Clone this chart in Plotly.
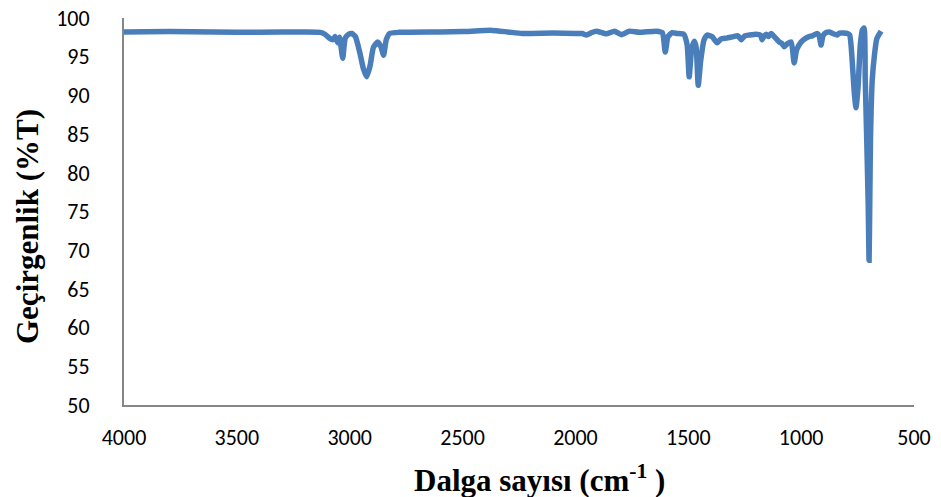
import plotly.graph_objects as go

wavenumber = [4000, 3800, 3600, 3400, 3200, 3130, 3110, 3090, 3075, 3065, 3053, 3045, 3031, 3020, 3005,
              2991, 2975, 2955, 2940, 2925, 2910, 2895, 2876, 2862, 2850, 2838, 2823, 2780, 2600, 2500,
              2370, 2300, 2235, 2100, 2000, 1970, 1951, 1930, 1907, 1863, 1827, 1796, 1761, 1717, 1642,
              1615, 1602, 1590, 1571, 1549, 1520, 1505, 1496, 1485, 1473, 1465, 1456, 1445, 1430, 1416,
              1395, 1372, 1355, 1330, 1300, 1280, 1265, 1250, 1230, 1200, 1180, 1173, 1165, 1155, 1145,
              1133, 1110, 1097, 1085, 1075, 1060, 1044, 1031, 1020, 1000, 985, 965, 950, 929, 920,
              912, 903, 890, 876, 860, 841, 830, 796, 785, 775, 765, 757, 748, 738, 728,
              721, 716, 710, 703, 699, 696, 693, 690, 685, 676, 665, 646]
transmittance = [98.2, 98.25, 98.2, 98.15, 98.2, 98.15, 97.9, 97.4, 97.2, 97.6, 96.8, 97.5, 94.8, 97.4, 97.9,
                 98.0, 97.6, 95.5, 93.5, 92.4, 93.8, 96.2, 96.9, 96.3, 95.2, 97.2, 98.0, 98.15, 98.2, 98.25,
                 98.4, 98.2, 98.0, 98.05, 98.0, 98.0, 97.8, 98.1, 98.3, 97.95, 98.3, 97.85, 98.3, 98.15, 98.3,
                 98.1, 95.6, 97.6, 98.1, 98.0, 97.9, 96.5, 92.4, 96.0, 97.0, 96.2, 91.3, 94.5, 97.2, 97.8,
                 97.6, 96.8, 97.3, 97.4, 97.6, 97.7, 97.2, 97.7, 97.8, 97.9, 97.8, 97.2, 97.6, 97.9, 97.6,
                 98.0, 97.3, 96.9, 96.7, 96.3, 96.7, 96.9, 94.2, 95.9, 96.9, 97.3, 97.6, 97.7, 98.0, 97.7,
                 96.5, 97.7, 98.1, 98.2, 98.0, 97.8, 98.05, 98.0, 97.8, 95.0, 90.5, 88.4, 91.0, 96.5, 98.5,
                 98.7, 92.0, 85.0, 76.0, 68.7, 76.0, 84.0, 88.0, 92.0, 95.0, 97.3, 98.3]

x_ticks = [4000, 3500, 3000, 2500, 2000, 1500, 1000, 500]
y_ticks = [50, 55, 60, 65, 70, 75, 80, 85, 90, 95, 100]

fig = go.Figure()
fig.add_trace(go.Scatter(
    x=wavenumber, y=transmittance, mode="lines",
    line=dict(color="#4A7EBB", width=5.5, shape="spline", smoothing=0.5),
    showlegend=False, hoverinfo="x+y"))

tick_font = dict(family="Carlito, Calibri, Lato, sans-serif", size=22, color="#000000")
title_font = dict(family="'Liberation Serif', 'Times New Roman', serif", size=31, color="#000000")

fig.update_layout(
    template="none",
    width=941, height=497,
    margin=dict(l=124, r=27, t=18, b=92, pad=0),
    paper_bgcolor="white", plot_bgcolor="white",
    xaxis=dict(range=[4000, 500], tickvals=x_ticks, ticktext=[str(v) for v in x_ticks],
               showgrid=False, zeroline=False, showline=True, linecolor="#868686", linewidth=2,
               ticks="", tickfont=tick_font, ticklabelstandoff=12, automargin=False),
    yaxis=dict(range=[50, 100], tickvals=y_ticks, ticktext=[str(v) for v in y_ticks],
               showgrid=False, zeroline=False, showline=True, linecolor="#868686", linewidth=2,
               ticks="", tickfont=tick_font, ticklabelstandoff=28, automargin=False),
    annotations=[
        dict(text="<b>Dalga sayısı (cm<sup>-1</sup> )</b>", xref="paper", yref="paper",
             x=(539 - 124) / 790, y=-(478 - 405) / 387, xanchor="center", yanchor="middle",
             showarrow=False, font=title_font),
        dict(text="<b>Geçirgenlik (%T)</b>", xref="paper", yref="paper",
             x=-(124 - 27) / 790, y=1 - (227 - 18) / 387, xanchor="center", yanchor="middle",
             textangle=-90, showarrow=False, font=title_font),
    ],
)

fig.write_html("out.html")
